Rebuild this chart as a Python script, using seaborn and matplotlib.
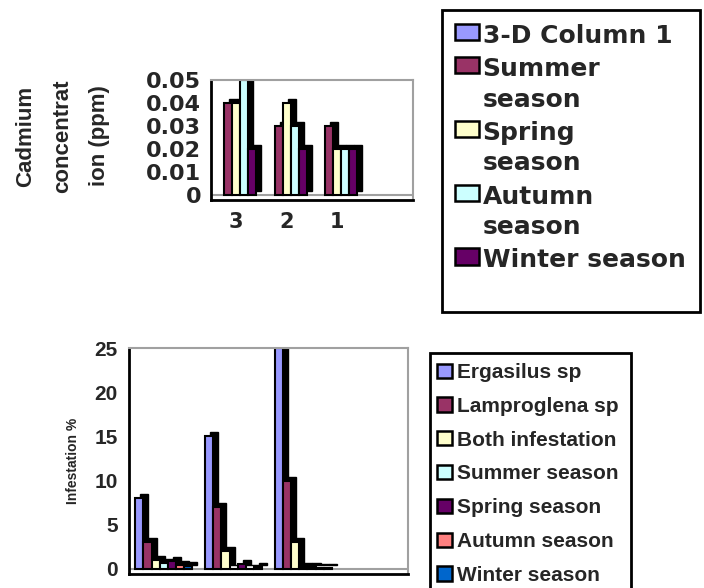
import numpy as np
import pandas as pd
import matplotlib
matplotlib.use("Agg")
import matplotlib.pyplot as plt
import seaborn as sns
import matplotlib.transforms as mtransforms
from matplotlib.patches import Patch, Rectangle
from matplotlib import font_manager
from matplotlib.font_manager import FontProperties

# ---------------- data: cadmium chart (top) ----------------
cd_categories = ["c3", "c2", "c1"]
cd_ticklabels = ["3", "2", "1", ""]
cd_series = ["3-D Column 1", "Summer\nseason", "Spring\nseason", "Autumn\nseason", "Winter season"]
cd_column1 = [np.nan, np.nan, np.nan]
cd_summer = [0.04, 0.03, 0.03]
cd_spring = [0.04, 0.04, 0.02]
cd_autumn = [0.05, 0.03, 0.02]
cd_winter = [0.02, 0.02, 0.02]
cd_colors = ["#9999FF", "#993366", "#FFFFCC", "#CCFFFF", "#660066"]
cd_yticks = [0, 0.01, 0.02, 0.03, 0.04, 0.05]
cd_yticklabels = ["0", "0.01", "0.02", "0.03", "0.04", "0.05"]

# ---------------- data: infestation chart (bottom) ----------------
inf_categories = ["g1", "g2", "g3"]
inf_ticklabels = ["1", "2", "1", ""]
inf_series = ["Ergasilus sp", "Lamproglena sp", "Both infestation", "Summer season",
              "Spring season", "Autumn season", "Winter season"]
inf_ergasilus = [8, 15, 25]
inf_lamproglena = [3, 7, 10]
inf_both = [1, 2, 3]
inf_summer = [0.7, 0.05, 0.2]
inf_spring = [0.9, 0.6, 0.2]
inf_autumn = [0.5, 0.05, 0.1]
inf_winter = [0.35, 0.25, 0.1]
inf_colors = ["#9999FF", "#993366", "#FFFFCC", "#CCFFFF", "#660066", "#FF8080", "#0066CC"]
inf_yticks = [0, 5, 10, 15, 20, 25]

W, H = 704, 588

sns.set_style("white")
avail = {f.name for f in font_manager.fontManager.ttflist}
narrow = "Liberation Sans Narrow" if "Liberation Sans Narrow" in avail else "Liberation Sans"
plt.rcParams["font.family"] = ["Liberation Sans", "DejaVu Sans"]

fig = plt.figure(figsize=(W / 100, H / 100), dpi=100)
fig.patch.set_facecolor("white")

GRAY = "#a0a0a0"


def px(x, y):
    return x / W, 1 - y / H


def add_depth(ax, dx=5, dy=4):
    bars = [p for p in ax.patches if isinstance(p, Rectangle)]
    tr = mtransforms.offset_copy(ax.transData, fig=fig, x=dx, y=dy, units="dots")
    for p in bars:
        h = p.get_height()
        if h is None or np.isnan(h):
            continue
        sh = Rectangle(p.get_xy(), p.get_width(), h, transform=tr,
                       facecolor="black", edgecolor="black", linewidth=1.0,
                       zorder=p.get_zorder() - 0.1)
        ax.add_patch(sh)


def long_df(cats, series, cols):
    rows = []
    for s, vals in zip(series, cols):
        for c, v in zip(cats, vals):
            rows.append({"cat": c, "series": s, "val": v})
    return pd.DataFrame(rows).dropna()


# ================= TOP CHART =================
ax1 = fig.add_axes([211 / W, 1 - 200 / H, 202 / W, 120 / H])
df1 = long_df(cd_categories, cd_series, [cd_column1, cd_summer, cd_spring, cd_autumn, cd_winter])
sns.barplot(data=df1, x="cat", y="val", hue="series", order=cd_categories,
            hue_order=cd_series, palette=cd_colors, width=0.8, saturation=1,
            edgecolor="black", linewidth=1.5, errorbar=None, legend=False, ax=ax1)
add_depth(ax1)
ax1.axhline(0, color=GRAY, lw=1.5, zorder=0.5)
ax1.set_xlim(-0.5, 3.5)
ax1.set_ylim(-0.0022, 0.05)
ax1.set_xticks([-0.5, 0.5, 1.5, 2.5, 3.5], labels=[""] * 5)
ax1.set_xticks([0, 1, 2, 3], labels=cd_ticklabels, minor=True)
ax1.set_yticks(cd_yticks, labels=cd_yticklabels)
ax1.tick_params(axis="x", which="major", length=6, width=1.5, color="black", direction="out")
ax1.tick_params(axis="x", which="minor", length=0, pad=9)
ax1.tick_params(axis="y", length=6, width=1.5, color="black", direction="out", pad=1)
for t in ax1.get_yticklabels():
    t.set_fontproperties(FontProperties(family="DejaVu Sans", weight="bold", size=16))
for t in ax1.get_xticklabels(minor=True):
    t.set_fontproperties(FontProperties(family="DejaVu Sans", weight="bold", size=15))
ax1.set_xlabel("")
ax1.set_ylabel("Cadmium\nconcentrat\nion (ppm)",
               fontproperties=FontProperties(family=narrow, weight="bold",
                                             size=19 if narrow != "Liberation Sans" else 16),
               linespacing=2.0)
ax1.yaxis.label.set_va("center")
ax1.yaxis.label.set_ha("center")
ax1.yaxis.set_label_coords(*px(63, 136), transform=fig.transFigure)
for s in ["left", "bottom"]:
    ax1.spines[s].set_color("black")
    ax1.spines[s].set_linewidth(2)
for s in ["top", "right"]:
    ax1.spines[s].set_color(GRAY)
    ax1.spines[s].set_linewidth(1.5)

h1 = [Patch(facecolor=c, edgecolor="black", linewidth=1.8) for c in cd_colors]
leg1 = fig.legend(h1, cd_series, loc="upper left", bbox_to_anchor=px(455, 24),
                  bbox_transform=fig.transFigure, frameon=False,
                  prop=FontProperties(family="DejaVu Sans", weight="bold", size=18),
                  handlelength=0.95, handleheight=0.62, handletextpad=0.15,
                  labelspacing=0.37, borderpad=0, borderaxespad=0)
for t in leg1.get_texts():
    t.set_linespacing(1.34)
for col in leg1._legend_handle_box.get_children():
    for row in col.get_children():
        row.align = "top"
fig.add_artist(Rectangle(px(442, 312), 258 / W, 302 / H, transform=fig.transFigure,
                         fill=False, edgecolor="black", linewidth=2))

# ================= BOTTOM CHART =================
ax2 = fig.add_axes([129 / W, 1 - 574 / H, 279 / W, 226 / H])
df2 = long_df(inf_categories, inf_series,
              [inf_ergasilus, inf_lamproglena, inf_both, inf_summer, inf_spring, inf_autumn, inf_winter])
sns.barplot(data=df2, x="cat", y="val", hue="series", order=inf_categories,
            hue_order=inf_series, palette=inf_colors, width=0.82, saturation=1,
            edgecolor="black", linewidth=1.5, errorbar=None, legend=False, ax=ax2)
add_depth(ax2)
ax2.axhline(0, color=GRAY, lw=1.5, zorder=0.5)
ax2.set_xlim(-0.5, 3.5)
ax2.set_ylim(-0.57, 25)
ax2.set_xticks([-0.5, 0.5, 1.5, 2.5, 3.5], labels=[""] * 5)
ax2.set_xticks([0, 1, 2, 3], labels=inf_ticklabels, minor=True)
ax2.set_yticks(inf_yticks, labels=[str(v) for v in inf_yticks])
ax2.tick_params(axis="x", which="major", length=6, width=1.5, color="black", direction="out")
ax2.tick_params(axis="x", which="minor", length=0, pad=9)
ax2.tick_params(axis="y", length=6, width=1.5, color="black", direction="out", pad=2)
for t in ax2.get_yticklabels() + ax2.get_xticklabels(minor=True):
    t.set_fontproperties(FontProperties(family="Liberation Sans", weight="bold", size=15))
ax2.set_xlabel("")
ax2.set_ylabel("Infestation %",
               fontproperties=FontProperties(family="Liberation Sans", weight="bold", size=10))
ax2.yaxis.label.set_va("center")
ax2.yaxis.label.set_ha("center")
ax2.yaxis.set_label_coords(*px(73, 461), transform=fig.transFigure)
for s in ["left", "bottom"]:
    ax2.spines[s].set_color("black")
    ax2.spines[s].set_linewidth(2)
for s in ["top", "right"]:
    ax2.spines[s].set_color(GRAY)
    ax2.spines[s].set_linewidth(1.5)

h2 = [Patch(facecolor=c, edgecolor="black", linewidth=1.8) for c in inf_colors]
leg2 = fig.legend(h2, inf_series, loc="upper left", bbox_to_anchor=px(437, 363),
                  bbox_transform=fig.transFigure, frameon=False,
                  prop=FontProperties(family="Liberation Sans", weight="bold", size=15),
                  handlelength=0.72, handleheight=0.68, handletextpad=0.25,
                  labelspacing=0.71, borderpad=0, borderaxespad=0)
fig.add_artist(Rectangle(px(430, 600), 201 / W, 247 / H, transform=fig.transFigure,
                         fill=False, edgecolor="black", linewidth=2))

fig.savefig("out.png", dpi=100, facecolor="white")
